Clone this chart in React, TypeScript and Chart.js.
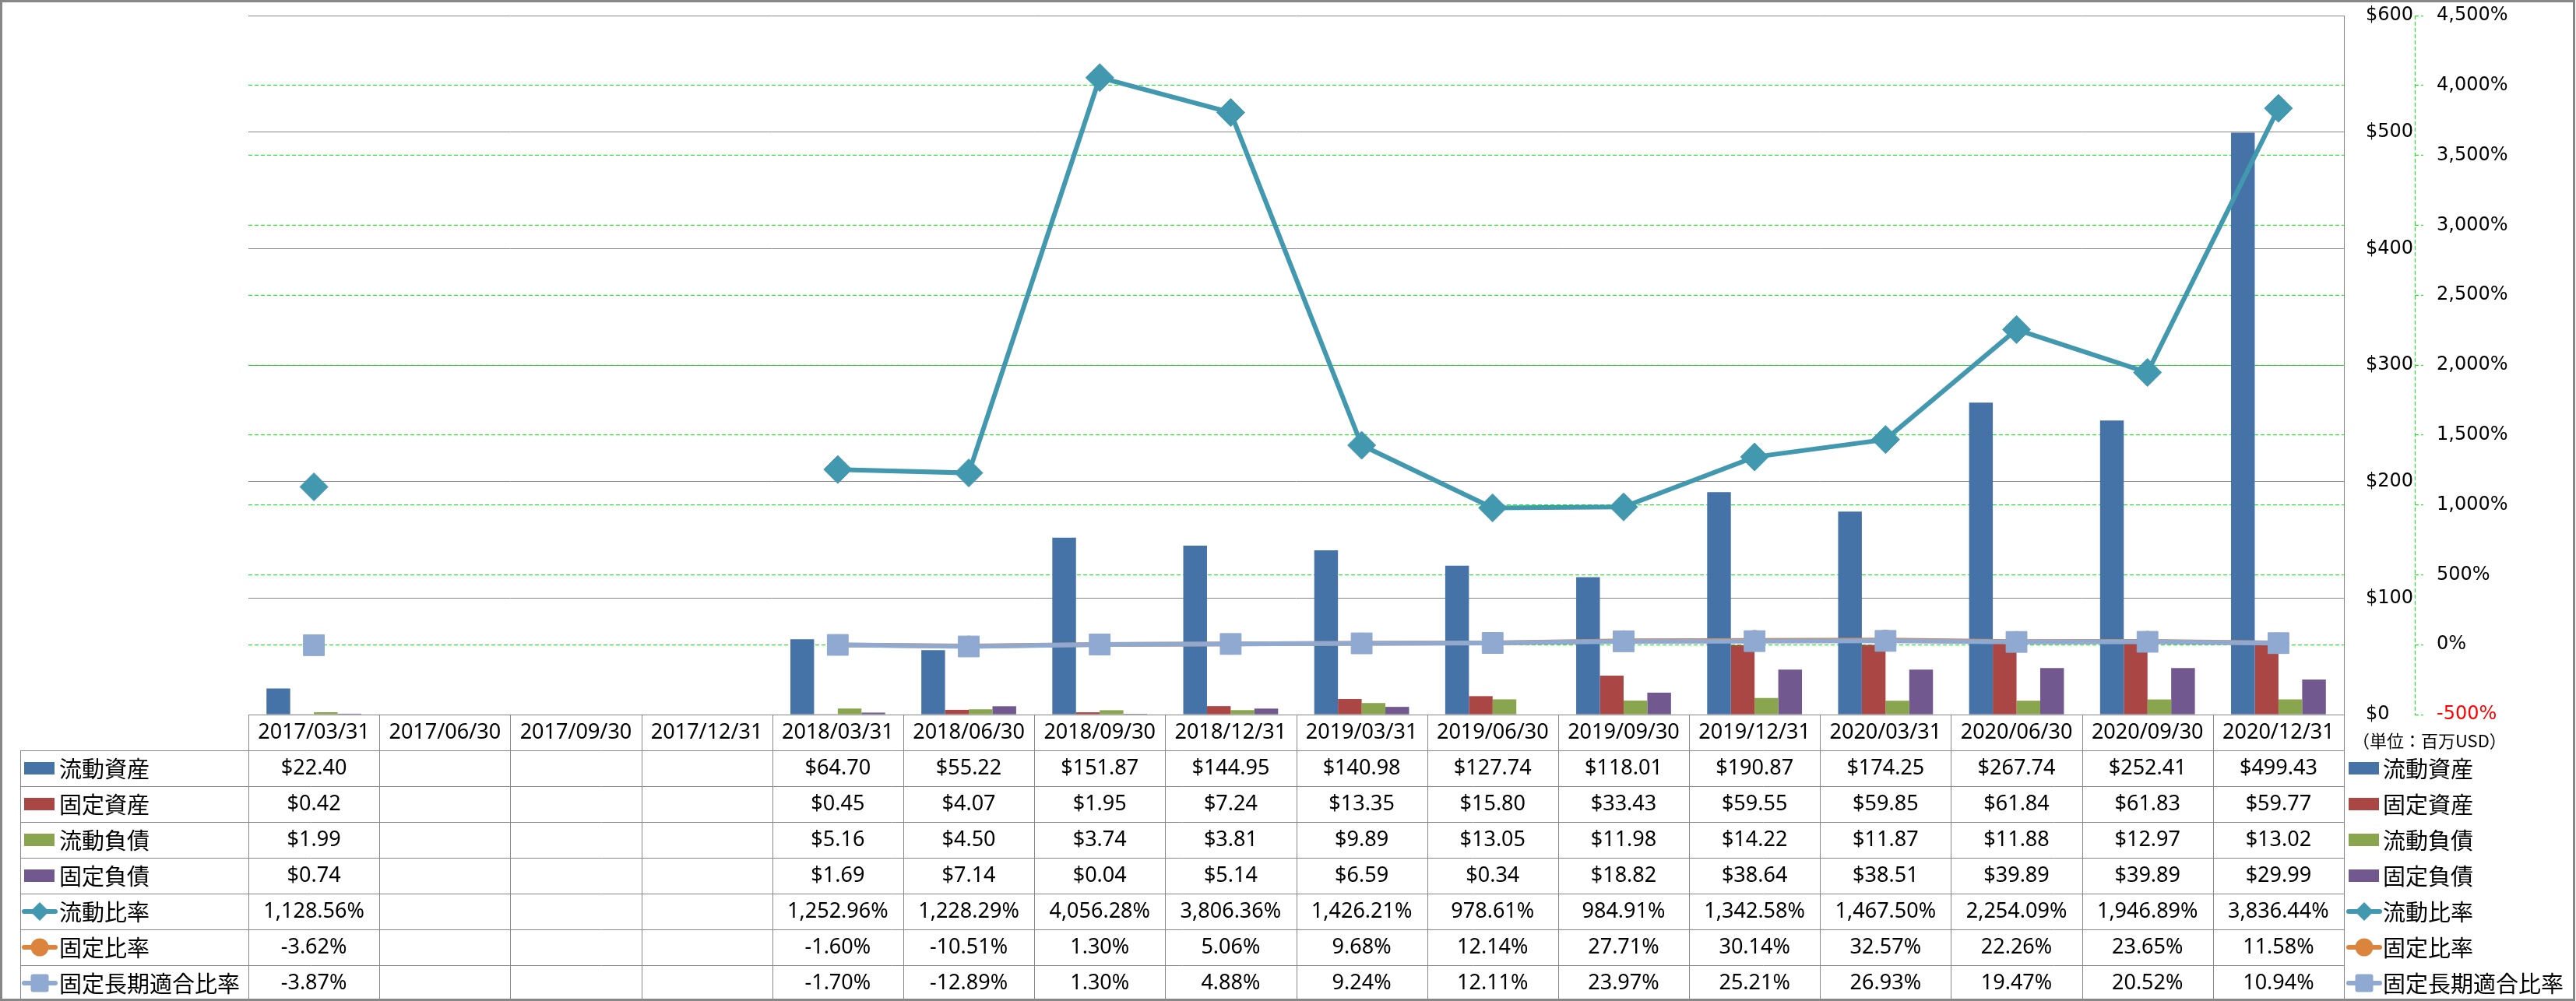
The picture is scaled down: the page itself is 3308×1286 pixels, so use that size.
import { useEffect, useRef } from 'react';
import { Chart, registerables } from 'chart.js';

Chart.register(...registerables);

const W = 3308;
const H = 1286;

const categories = [
  '2017/03/31', '2017/06/30', '2017/09/30', '2017/12/31',
  '2018/03/31', '2018/06/30', '2018/09/30', '2018/12/31',
  '2019/03/31', '2019/06/30', '2019/09/30', '2019/12/31',
  '2020/03/31', '2020/06/30', '2020/09/30', '2020/12/31',
];

const currentAssets = [22.40, null, null, null, 64.70, 55.22, 151.87, 144.95, 140.98, 127.74, 118.01, 190.87, 174.25, 267.74, 252.41, 499.43];
const fixedAssets = [0.42, null, null, null, 0.45, 4.07, 1.95, 7.24, 13.35, 15.80, 33.43, 59.55, 59.85, 61.84, 61.83, 59.77];
const currentLiabilities = [1.99, null, null, null, 5.16, 4.50, 3.74, 3.81, 9.89, 13.05, 11.98, 14.22, 11.87, 11.88, 12.97, 13.02];
const fixedLiabilities = [0.74, null, null, null, 1.69, 7.14, 0.04, 5.14, 6.59, 0.34, 18.82, 38.64, 38.51, 39.89, 39.89, 29.99];

const currentRatio = [1128.56, null, null, null, 1252.96, 1228.29, 4056.28, 3806.36, 1426.21, 978.61, 984.91, 1342.58, 1467.50, 2254.09, 1946.89, 3836.44];
const fixedRatio = [-3.62, null, null, null, -1.60, -10.51, 1.30, 5.06, 9.68, 12.14, 27.71, 30.14, 32.57, 22.26, 23.65, 11.58];
const fixedLongTermRatio = [-3.87, null, null, null, -1.70, -12.89, 1.30, 4.88, 9.24, 12.11, 23.97, 25.21, 26.93, 19.47, 20.52, 10.94];

const seriesNames = ['流動資産', '固定資産', '流動負債', '固定負債', '流動比率', '固定比率', '固定長期適合比率'];
const barColors = ['#4572A7', '#AA4643', '#89A54E', '#71588F'];
const lineColors = ['#4198AF', '#DB843D', '#8FA9D0'];

const moneyAxis = { min: 0, max: 600, step: 100 };
const ratioAxis = { min: -500, max: 4500, step: 500 };
const unitLabel = '（単位：百万USD）';

const GRAY = '#878787';
const GREEN = '#00FF00';
const ROW_H = 46;

const fmtMoney = (v: number) => '$' + v.toFixed(2);
const fmtRatio = (v: number) =>
  v.toLocaleString('en-US', { minimumFractionDigits: 2, maximumFractionDigits: 2 }) + '%';

type Kind = 'bar' | 'diamond' | 'circle' | 'square';
const tableRows: { name: string; kind: Kind; color: string; values: (number | null)[]; fmt: (v: number) => string }[] = [
  { name: seriesNames[0], kind: 'bar', color: barColors[0], values: currentAssets, fmt: fmtMoney },
  { name: seriesNames[1], kind: 'bar', color: barColors[1], values: fixedAssets, fmt: fmtMoney },
  { name: seriesNames[2], kind: 'bar', color: barColors[2], values: currentLiabilities, fmt: fmtMoney },
  { name: seriesNames[3], kind: 'bar', color: barColors[3], values: fixedLiabilities, fmt: fmtMoney },
  { name: seriesNames[4], kind: 'diamond', color: lineColors[0], values: currentRatio, fmt: fmtRatio },
  { name: seriesNames[5], kind: 'circle', color: lineColors[1], values: fixedRatio, fmt: fmtRatio },
  { name: seriesNames[6], kind: 'square', color: lineColors[2], values: fixedLongTermRatio, fmt: fmtRatio },
];

function drawIcon(ctx: CanvasRenderingContext2D, kind: Kind, color: string, x0: number, cy: number) {
  ctx.save();
  if (kind === 'bar') {
    ctx.fillStyle = color;
    ctx.fillRect(x0, cy - 8, 39, 16);
    ctx.restore();
    return;
  }
  ctx.strokeStyle = color;
  ctx.lineWidth = 6;
  ctx.lineCap = 'round';
  ctx.beginPath();
  ctx.moveTo(x0, cy);
  ctx.lineTo(x0 + 40, cy);
  ctx.stroke();
  const cx = x0 + 20;
  ctx.fillStyle = color;
  ctx.beginPath();
  if (kind === 'diamond') {
    ctx.moveTo(cx - 12, cy);
    ctx.lineTo(cx, cy - 12);
    ctx.lineTo(cx + 12, cy);
    ctx.lineTo(cx, cy + 12);
    ctx.closePath();
  } else if (kind === 'circle') {
    ctx.arc(cx, cy, 11.5, 0, Math.PI * 2);
  } else {
    ctx.roundRect(cx - 11.5, cy - 11.5, 23, 23, 3);
  }
  ctx.fill();
  ctx.restore();
}

const axisLinePlugin = {
  id: 'ratioAxisLine',
  afterDraw(chart: any) {
    const ctx: CanvasRenderingContext2D = chart.ctx;
    const s = chart.scales.y1;
    const x = Math.round(s.left) + 0.5;
    ctx.save();
    ctx.strokeStyle = GREEN;
    ctx.lineWidth = 1;
    ctx.setLineDash([5, 3]);
    ctx.beginPath();
    ctx.moveTo(x, s.top);
    ctx.lineTo(x, s.bottom);
    ctx.stroke();
    ctx.restore();
  },
};

const tablePlugin = {
  id: 'dataTable',
  afterDraw(chart: any) {
    const ctx: CanvasRenderingContext2D = chart.ctx;
    const xs = chart.scales.x;
    const area = chart.chartArea;
    const top = area.bottom;
    const rowTop0 = xs.bottom;
    const bottom = rowTop0 + tableRows.length * ROW_H;
    const line = (x1: number, y1: number, x2: number, y2: number) => {
      ctx.beginPath();
      ctx.moveTo(x1, y1);
      ctx.lineTo(x2, y2);
      ctx.stroke();
    };
    ctx.save();
    ctx.strokeStyle = GRAY;
    ctx.lineWidth = 1;
    for (let i = 0; i <= categories.length; i++) {
      const px = Math.round(xs.getPixelForValue(i - 0.5)) + 0.5;
      line(px, top, px, bottom);
    }
    const legL = 26.5;
    line(legL, rowTop0, legL, bottom);
    for (let k = 0; k <= tableRows.length; k++) {
      const y = Math.round(rowTop0 + k * ROW_H) + 0.5;
      line(legL, y, Math.round(area.right) + 0.5, y);
    }

    tableRows.forEach((row, k) => {
      const cy = rowTop0 + k * ROW_H + ROW_H / 2;
      drawIcon(ctx, row.kind, row.color, 31, cy);
      ctx.fillStyle = '#000';
      ctx.font = '29px "Noto Sans CJK JP"';
      ctx.textAlign = 'left';
      ctx.textBaseline = 'middle';
      ctx.fillText(row.name, 76, cy + 1);
      drawIcon(ctx, row.kind, row.color, 3016, cy);
      ctx.fillStyle = '#000';
      ctx.fillText(row.name, 3060, cy + 1);
      ctx.font = '27px "Noto Sans"';
      ctx.textAlign = 'center';
      row.values.forEach((v, i) => {
        if (v === null || v === undefined) return;
        ctx.fillText(row.fmt(v), xs.getPixelForValue(i), cy);
      });
    });

    ctx.font = '22px "Noto Sans CJK JP"';
    ctx.textAlign = 'left';
    ctx.textBaseline = 'middle';
    ctx.fillStyle = '#000';
    ctx.fillText(unitLabel, 3021, 952);

    ctx.strokeStyle = GRAY;
    ctx.lineWidth = 3;
    ctx.strokeRect(1.5, 1.5, W - 4, H - 3);
    ctx.restore();
  },
};

export default function App() {
  const ref = useRef<HTMLCanvasElement>(null);
  useEffect(() => {
    document.body.style.margin = '0';
    document.body.style.overflow = 'hidden';
    const canvas = ref.current!;
    const chart = new Chart(canvas, {
      type: 'bar',
      data: {
        labels: categories,
        datasets: [
          { type: 'bar', label: seriesNames[0], data: currentAssets, backgroundColor: barColors[0], yAxisID: 'y', order: 3, categoryPercentage: 0.724, barPercentage: 1 },
          { type: 'bar', label: seriesNames[1], data: fixedAssets, backgroundColor: barColors[1], yAxisID: 'y', order: 4, categoryPercentage: 0.724, barPercentage: 1 },
          { type: 'bar', label: seriesNames[2], data: currentLiabilities, backgroundColor: barColors[2], yAxisID: 'y', order: 5, categoryPercentage: 0.724, barPercentage: 1 },
          { type: 'bar', label: seriesNames[3], data: fixedLiabilities, backgroundColor: barColors[3], yAxisID: 'y', order: 6, categoryPercentage: 0.724, barPercentage: 1 },
          {
            type: 'line', label: seriesNames[4], data: currentRatio, yAxisID: 'y1', order: 2,
            borderColor: lineColors[0], backgroundColor: lineColors[0], borderWidth: 6,
            pointStyle: 'rectRot', pointRadius: 18, pointBorderWidth: 1, pointBackgroundColor: lineColors[0], pointBorderColor: lineColors[0],
            tension: 0, spanGaps: false,
          },
          {
            type: 'line', label: seriesNames[5], data: fixedRatio, yAxisID: 'y1', order: 1,
            borderColor: lineColors[1], backgroundColor: lineColors[1], borderWidth: 6,
            pointStyle: 'circle', pointRadius: 13, pointBorderWidth: 1, pointBackgroundColor: lineColors[1], pointBorderColor: lineColors[1],
            tension: 0, spanGaps: false,
          },
          {
            type: 'line', label: seriesNames[6], data: fixedLongTermRatio, yAxisID: 'y1', order: 0,
            borderColor: lineColors[2], backgroundColor: lineColors[2], borderWidth: 6,
            pointStyle: 'rect', pointRadius: 19, pointBorderWidth: 1, pointBackgroundColor: lineColors[2], pointBorderColor: lineColors[2],
            tension: 0, spanGaps: false,
          },
        ] as any,
      },
      options: {
        responsive: false,
        animation: false,
        devicePixelRatio: 1,
        layout: { padding: { left: 319, top: 19, right: 0, bottom: H - 964 } },
        plugins: { legend: { display: false }, tooltip: { enabled: false } },
        scales: {
          x: {
            type: 'category',
            offset: true,
            grid: { display: false, drawTicks: false },
            border: { display: false },
            ticks: {
              autoSkip: false, maxRotation: 0, minRotation: 0, padding: 7,
              color: '#000', font: { family: '"Noto Sans"', size: 27 },
            },
            afterFit: (s: any) => { s.height = 46; },
          },
          y: {
            position: 'right',
            weight: 0,
            min: moneyAxis.min, max: moneyAxis.max,
            grid: { color: GRAY, lineWidth: 1, drawTicks: true, tickLength: 28, tickColor: 'rgba(0,0,0,0)' },
            border: { display: true, color: GRAY, width: 1 },
            ticks: {
              stepSize: moneyAxis.step, padding: 0, color: '#000',
              font: { family: '"DejaVu Sans"', size: 24 },
              callback: (v: any) => '$' + v,
            },
            afterFit: (s: any) => { s.width = 91; },
          },
          y1: {
            position: 'right',
            weight: 1,
            min: ratioAxis.min, max: ratioAxis.max,
            grid: {
              color: (c: any) => (c.tick && (c.tick.value === ratioAxis.min || c.tick.value === ratioAxis.max) ? 'rgba(0,0,0,0)' : GREEN),
              lineWidth: 1, drawTicks: true, tickLength: 28, tickColor: GREEN, tickWidth: 1, tickBorderDash: [5, 3, 3, 200],
            },
            border: { display: false, color: GREEN, width: 1, dash: [5, 3] },
            ticks: {
              stepSize: ratioAxis.step, padding: 0,
              color: (c: any) => (c.tick && c.tick.value < 0 ? '#FF0000' : '#000'),
              font: { family: '"DejaVu Sans"', size: 24 },
              callback: (v: any) => Number(v).toLocaleString('en-US') + '%',
            },
            afterFit: (s: any) => { s.width = W - 3101; },
          },
        },
      } as any,
      plugins: [axisLinePlugin, tablePlugin],
    });
    return () => chart.destroy();
  }, []);
  return (
    <div style={{ position: 'absolute', left: 0, top: 0, width: W, height: H, background: '#fff' }}>
      <canvas ref={ref} width={W} height={H} style={{ display: 'block', width: W, height: H }} />
    </div>
  );
}
